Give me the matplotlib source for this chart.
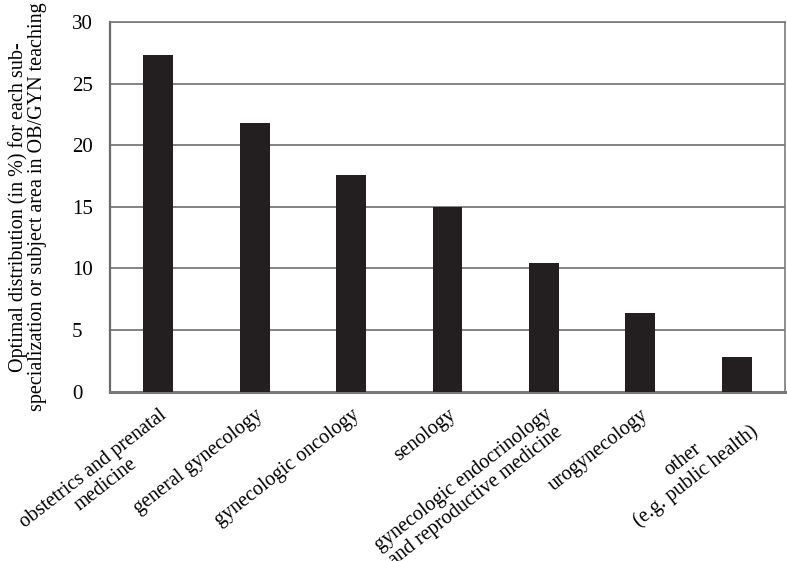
import matplotlib.pyplot as plt

categories = [
    "obstetrics and prenatal\nmedicine",
    "general gynecology",
    "gynecologic oncology",
    "senology",
    "gynecologic endocrinology\nand reproductive medicine",
    "urogynecology",
    "other\n(e.g. public health)",
]
values = [27.3, 21.8, 17.6, 15.0, 10.4, 6.4, 2.8]
yticks = [0, 5, 10, 15, 20, 25, 30]

plt.rcParams['font.family'] = ['Liberation Serif', 'DejaVu Serif']

fig = plt.figure(figsize=(7.87, 5.61), dpi=100)
ax = fig.add_axes([0.1398, 0.302, 0.8577, 0.6588])

x = list(range(len(categories)))
ax.bar(x, values, width=0.31, color='#231f20', zorder=3)

ax.set_xlim(-0.5, len(categories) - 0.5)
ax.set_ylim(0, 30)
ax.set_yticks(yticks)
ax.set_yticklabels([str(t) for t in yticks], fontsize=15, ha='left')
ax.tick_params(axis='y', length=0, pad=27.4)
ax.grid(axis='y', color='#7a7a7a', linewidth=1.3, zorder=1)

ax.set_xticks(x)
ax.set_xticklabels(categories, fontsize=14.5, rotation=38, ha='right', va='top',
                   rotation_mode='anchor', multialignment='center', linespacing=1.1)
ax.tick_params(axis='x', length=0, pad=10)

for side in ['top', 'right']:
    ax.spines[side].set_color('#7a7a7a')
    ax.spines[side].set_linewidth(1.2)
ax.spines['left'].set_color('#6a6a6a')
ax.spines['left'].set_linewidth(1.6)
ax.spines['bottom'].set_color('#7a7a7a')
ax.spines['bottom'].set_linewidth(2.2)

ax.set_ylabel("Optimal distribution (in %) for each sub-\nspecialization or subject area in OB/GYN teaching",
              fontsize=14.5, linespacing=1.0)
ax.yaxis.set_label_coords(-0.094, 0.5)

fig.savefig('out.png', dpi=100)
